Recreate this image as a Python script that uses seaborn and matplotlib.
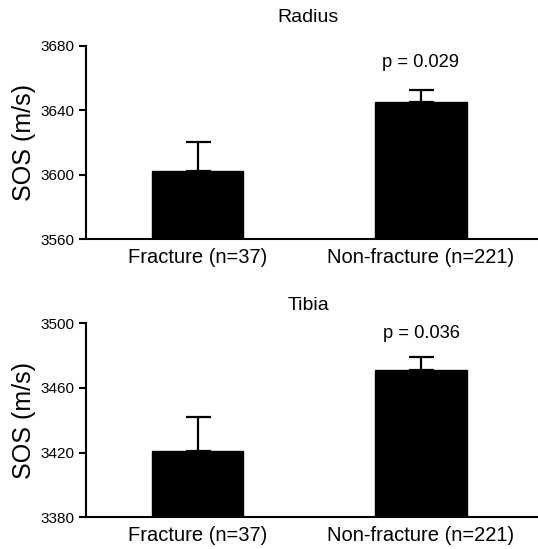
import matplotlib
matplotlib.use("Agg")
import matplotlib.pyplot as plt
import seaborn as sns
import pandas as pd

# Group labels and summary statistics (mean SOS with upper standard error)
groups = ["Fracture (n=37)", "Non-fracture (n=221)"]

radius_mean = [3602, 3645]
radius_err = [18, 7.5]
radius_p = "p = 0.029"

tibia_mean = [3421, 3471]
tibia_err = [21, 8]
tibia_p = "p = 0.036"

radius_ticks = [3560, 3600, 3640, 3680]
tibia_ticks = [3380, 3420, 3460, 3500]

sns.set_theme(style="ticks")
plt.rcParams["font.family"] = ["Liberation Sans", "DejaVu Sans"]
plt.rcParams["text.color"] = "black"
plt.rcParams["axes.labelcolor"] = "black"

fig = plt.figure(figsize=(5.38, 5.49), dpi=100)
ax_top = fig.add_axes([86 / 538, 1 - 239.3 / 549, 1 - 86 / 538, (239.3 - 45.5) / 549])
ax_bot = fig.add_axes([86 / 538, 1 - 517.3 / 549, 1 - 86 / 538, (517.3 - 323.3) / 549])


def panel(ax, means, errs, ticks, ptext, p_gap, title, title_y):
    df = pd.DataFrame({"group": groups, "sos": means})
    sns.barplot(data=df, x="group", y="sos", ax=ax, color="black",
                edgecolor="black", width=0.41, saturation=1, errorbar=None)
    # upper-only error bars
    ax.errorbar([0, 1], means, yerr=[[0, 0], errs], fmt="none", ecolor="black",
                elinewidth=1.6, capsize=9, capthick=1.6, zorder=3)
    ax.set_ylim(ticks[0], ticks[-1])
    ax.set_yticks(ticks)
    ax.set_xlim(-0.5, -0.5 + 452 / 223.3)
    ax.set_xlabel("")
    ax.set_ylabel("SOS (m/s)", fontsize=18, labelpad=3, color="black")
    for side in ("top", "right"):
        ax.spines[side].set_visible(False)
    for side in ("left", "bottom"):
        ax.spines[side].set_linewidth(1.5)
        ax.spines[side].set_color("black")
    ax.spines["left"].set_bounds(ticks[0], ticks[-1])
    ax.tick_params(axis="y", length=5, width=1.5, labelsize=11, pad=3.5,
                   colors="black")
    ax.tick_params(axis="x", length=0, labelsize=14.5, pad=6, colors="black")
    ax.text(1, means[1] + errs[1] + p_gap, ptext,
            ha="center", va="center", fontsize=13.2, color="black")
    fig.text(308 / 538, 1 - title_y / 549, title, ha="center", va="center",
             fontsize=14, color="black")


panel(ax_top, radius_mean, radius_err, radius_ticks, radius_p, 17, "Radius", 17)
panel(ax_bot, tibia_mean, tibia_err, tibia_ticks, tibia_p, 15, "Tibia", 305)

fig.savefig("out.png", dpi=100)
